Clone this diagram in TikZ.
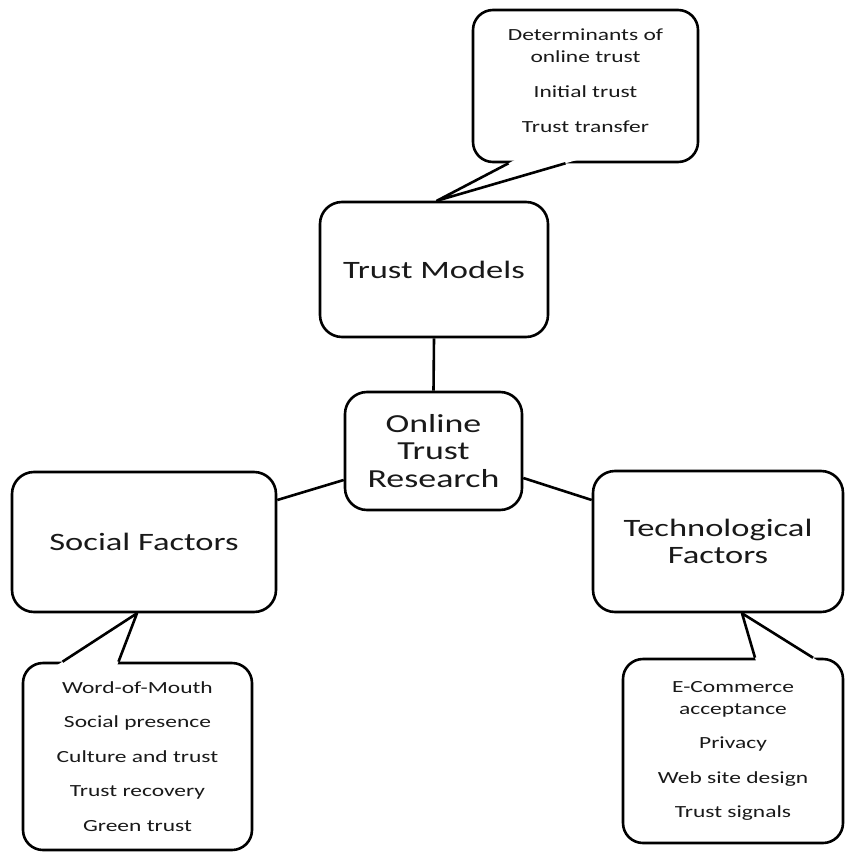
\documentclass[tikz,border=0pt]{standalone}
\usepackage{fontspec}
\setmainfont[FakeStretch=1.38]{Carlito}
\usetikzlibrary{calc}

\begin{document}
\begin{tikzpicture}[x=1pt,y=-1pt,line width=2.6pt,
  topic/.style={draw,rounded corners=22pt,align=center,fill=white,inner sep=0pt,text=black!90},
  bubble/.style={draw,rounded corners=20pt,align=center,fill=white,inner sep=0pt,text=black!90,
    font=\fontsize{17}{22}\selectfont}]
\useasboundingbox (0,0) rectangle (846,853);

% main topics
\node[topic,minimum width=177pt,minimum height=118pt,font=\fontsize{26}{27.5}\selectfont]
  (research) at (433.5,451) {Online\\Trust\\Research};
\node[topic,minimum width=228pt,minimum height=135pt,font=\fontsize{25}{27}\selectfont]
  (models) at (434,269.5) {Trust Models};
\node[topic,minimum width=264pt,minimum height=140pt,font=\fontsize{25}{27}\selectfont]
  (social) at (144,542) {Social Factors};
\node[topic,minimum width=250pt,minimum height=141pt,font=\fontsize{25}{27}\selectfont]
  (tech) at (718,541.5) {Technological\\Factors};

\draw (models.south) -- (research.north);
\draw ([yshift=-29pt]research.west) -- ([yshift=42pt]social.east);
\draw ([yshift=-27pt]research.east) -- ([yshift=41.5pt]tech.west);

% callouts
\node[bubble,minimum width=225pt,minimum height=152pt,inner ysep=0pt,text depth=10pt] (modelsnote) at (585.5,86)
  {Determinants of\\online trust\\[13pt]Initial trust\\[13pt]Trust transfer};
\node[bubble,minimum width=229pt,minimum height=187pt] (socialnote) at (137.5,756.5)
  {Word-of-Mouth\\[12.5pt]Social presence\\[12.5pt]Culture and trust\\[12.5pt]Trust recovery\\[12.5pt]Green trust};
\node[bubble,minimum width=220pt,minimum height=184pt] (technote) at (733,751)
  {E-Commerce\\acceptance\\[12.5pt]Privacy\\[12.5pt]Web site design\\[12.5pt]Trust signals};

% callout tails
\coordinate (ma) at ([xshift=-77pt]modelsnote.south);
\coordinate (mb) at ([xshift=-20pt]modelsnote.south);
\coordinate (mt) at ([xshift=3pt]models.north);
\fill[white] ($(mt)!1.1!(ma)$) -- (mt) -- ($(mt)!1.1!(mb)$) -- cycle;
\draw[line join=round] (ma) -- (mt) -- (mb);

\coordinate (sa) at ([xshift=-75pt]socialnote.north);
\coordinate (sb) at ([xshift=-19pt]socialnote.north);
\coordinate (st) at ([xshift=-7pt]social.south);
\fill[white] ($(st)!1.1!(sa)$) -- (st) -- ($(st)!1.1!(sb)$) -- cycle;
\draw[line join=round] (sa) -- (st) -- (sb);

\coordinate (ta) at ([xshift=22pt]technote.north);
\coordinate (tb) at ([xshift=80pt]technote.north);
\coordinate (tt) at ([xshift=24pt]tech.south);
\fill[white] ($(tt)!1.1!(ta)$) -- (tt) -- ($(tt)!1.1!(tb)$) -- cycle;
\draw[line join=round] (ta) -- (tt) -- (tb);
\end{tikzpicture}
\end{document}
